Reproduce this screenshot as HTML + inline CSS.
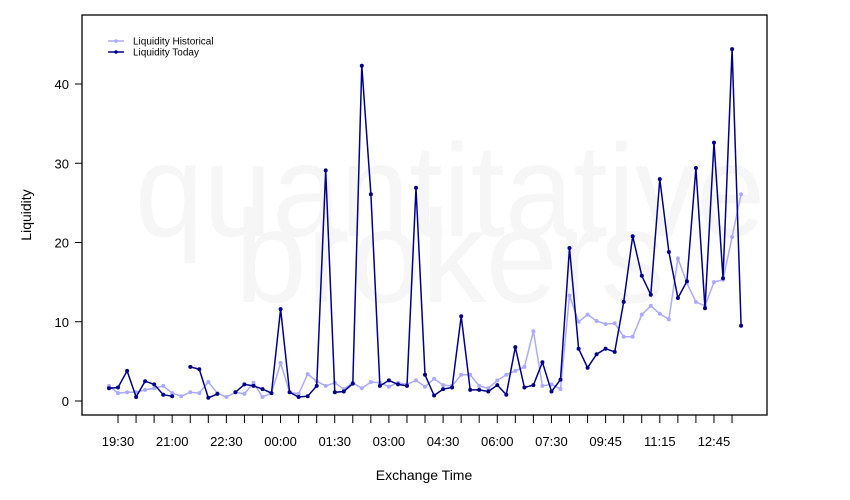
<!DOCTYPE html>
<html><head><meta charset="utf-8"><style>
body{margin:0;background:#fff;}
svg{display:block;font-family:"Liberation Sans",sans-serif;}
</style></head><body>
<svg id="s" width="850" height="500" xmlns="http://www.w3.org/2000/svg">
<text x="450" y="236" font-size="132" fill="#f6f6f6" text-anchor="middle" textLength="630" lengthAdjust="spacingAndGlyphs">quantitative</text>
<text x="450" y="302" font-size="132" fill="#f6f6f6" text-anchor="middle" textLength="430" lengthAdjust="spacingAndGlyphs">brokers</text>
<g id="g"></g>
<rect x="82" y="15" width="685" height="400" fill="none" stroke="#000" stroke-width="1.3"/>
<text x="424" y="480" font-size="14" text-anchor="middle">Exchange Time</text>
<text transform="translate(31,215) rotate(-90)" font-size="14" text-anchor="middle">Liquidity</text>
<line x1="108" y1="41" x2="124" y2="41" stroke="#aaaaff" stroke-width="1.5"/><circle cx="116" cy="41" r="1.8" fill="#aaaaff"/>
<line x1="108" y1="52" x2="124" y2="52" stroke="#00008b" stroke-width="1.5"/><circle cx="116" cy="52" r="1.8" fill="#00008b"/>
<text x="133" y="44.5" font-size="10">Liquidity Historical</text>
<text x="133" y="55.5" font-size="10">Liquidity Today</text>
</svg>
<script>
var T=[1.6,1.7,3.8,0.5,2.5,2.1,0.8,0.6,null,4.3,4.0,0.4,0.9,null,1.1,2.1,1.9,1.5,1.0,11.6,1.1,0.5,0.6,1.9,29.1,1.1,1.2,2.2,42.3,26.1,1.9,2.6,2.1,1.9,26.9,3.3,0.7,1.5,1.7,10.7,1.4,1.4,1.2,2.0,0.8,6.8,1.7,2.0,4.9,1.2,2.7,19.3,6.6,4.2,5.9,6.6,6.2,12.5,20.8,15.8,13.4,28.0,18.8,13.0,15.1,29.4,11.7,32.6,15.5,44.4,9.5];
var H=[1.9,1.0,1.1,1.1,1.4,1.6,1.9,1.0,0.6,1.1,1.0,2.4,1.0,0.5,1.1,0.9,2.3,0.5,1.0,4.8,1.1,0.9,3.4,2.5,1.9,2.3,1.5,2.3,1.6,2.4,2.3,1.8,2.3,2.1,2.6,1.8,2.8,2.0,1.9,3.3,3.3,1.9,1.6,2.6,3.3,3.8,4.3,8.8,1.9,2.1,1.5,13.3,10.0,10.9,10.1,9.7,9.8,8.1,8.1,10.9,12.0,11.0,10.3,18.0,14.9,12.5,12.0,15.0,15.3,20.7,26.1];
var g=document.getElementById('g'),h='';
function X(i){return 109+i*9.03;}function Y(v){return 401-v*7.925;}
for(var v=0;v<=40;v+=10){h+='<line x1="75" x2="82" y1="'+Y(v)+'" y2="'+Y(v)+'" stroke="#000"/><text x="69" y="'+(Y(v)+5)+'" font-size="13" text-anchor="end">'+v+'</text>';}
var labs=['19:30','21:00','22:30','00:00','01:30','03:00','04:30','06:00','07:30','09:45','11:15','12:45'];
for(var k=0;k<35;k++){var x=118+k*18.06;h+='<line x1="'+x+'" x2="'+x+'" y1="415" y2="423" stroke="#000"/>';}
for(var k=0;k<labs.length;k++){h+='<text x="'+(118+k*54.18)+'" y="446" font-size="13" text-anchor="middle">'+labs[k]+'</text>';}
function ser(a,c){var p='',s='';for(var i=0;i<a.length;i++){if(a[i]==null){p+=' ';continue;}p+=(p==''||p.slice(-1)==' '?'M':'L')+X(i).toFixed(1)+','+Y(a[i]).toFixed(1);s+='<circle cx="'+X(i).toFixed(1)+'" cy="'+Y(a[i]).toFixed(1)+'" r="2" fill="'+c+'"/>';}
return '<path d="'+p.replace(/ /g,'')+'" fill="none" stroke="'+c+'" stroke-width="1.5"/>'+s;}
h+=ser(H,'#aaaaff')+ser(T,'#00008b');
g.innerHTML=h;
</script>
</body></html>
